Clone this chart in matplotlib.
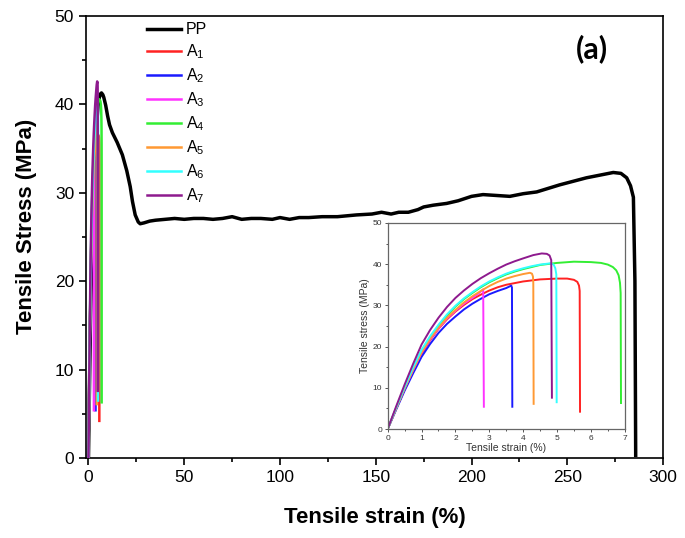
import matplotlib
matplotlib.use("Agg")
import matplotlib.pyplot as plt
from matplotlib.ticker import MultipleLocator

plt.rcParams['font.family'] = ['Liberation Sans', 'DejaVu Sans']
plt.rcParams['mathtext.fontset'] = 'custom'
plt.rcParams['mathtext.rm'] = 'Liberation Sans'
plt.rcParams['mathtext.it'] = 'Liberation Sans'

# ---- data ----
pp_x = [0, 1, 2, 3, 4, 5, 5.7, 6.3, 6.8, 7.5, 8, 9, 10, 11, 12.5, 15, 17.7, 20, 21.8, 23, 24.4,
        26, 27, 29, 32, 35, 40, 45, 50, 55, 60, 65, 70, 75, 80, 85, 90, 96, 100, 105, 110, 115,
        122, 130, 135, 140, 148, 153, 158, 162, 167, 172, 175, 180, 187, 193, 200, 206, 213,
        220, 227, 234, 240, 246, 253, 260, 267, 274, 278, 281, 283, 284.5, 285.3, 285.7]
pp_y = [0, 15, 25, 32, 37, 39.8, 40.8, 41.2, 41.3, 41.1, 40.8, 39.9, 38.7, 37.7, 36.8, 35.7,
        34.3, 32.5, 30.7, 29, 27.5, 26.7, 26.5, 26.6, 26.8, 26.9, 27.0, 27.1, 27.0, 27.1, 27.1,
        27.0, 27.1, 27.3, 27.0, 27.1, 27.1, 27.0, 27.2, 27.0, 27.2, 27.2, 27.3, 27.3, 27.4, 27.5,
        27.6, 27.8, 27.6, 27.8, 27.8, 28.1, 28.4, 28.6, 28.8, 29.1, 29.6, 29.8, 29.7, 29.6, 29.9,
        30.1, 30.5, 30.9, 31.3, 31.7, 32.0, 32.3, 32.2, 31.7, 30.8, 29.5, 20, 0.3]

a1_x = [0, 0.25, 0.5, 0.75, 1, 1.25, 1.5, 1.75, 2, 2.25, 2.5, 2.75, 3, 3.25, 3.5, 3.75, 4, 4.5,
        5, 5.3, 5.5, 5.6, 5.65, 5.67, 5.68]
a1_y = [0, 4.9, 9.7, 14.1, 18.2, 21.5, 24.3, 26.6, 28.5, 30.1, 31.5, 32.6, 33.6, 34.4, 35.0,
        35.4, 35.8, 36.3, 36.5, 36.5, 36.2, 35.7, 34.8, 33.5, 4.2]
a2_x = [0, 0.25, 0.5, 0.75, 1, 1.25, 1.5, 1.75, 2, 2.25, 2.5, 2.75, 3, 3.25, 3.5, 3.65, 3.67,
        3.68]
a2_y = [0, 4.7, 9.3, 13.5, 17.5, 20.6, 23.3, 25.5, 27.3, 29.0, 30.4, 31.6, 32.7, 33.5, 34.2,
        34.8, 34.3, 5.4]
a3_x = [0, 0.25, 0.5, 0.75, 1, 1.25, 1.5, 1.75, 2, 2.25, 2.5, 2.7, 2.82, 2.84]
a3_y = [0, 5.0, 9.8, 14.3, 18.5, 21.7, 24.4, 26.8, 28.7, 30.4, 31.8, 33.0, 33.9, 5.4]
a4_x = [0, 0.25, 0.5, 0.75, 1, 1.25, 1.5, 1.75, 2, 2.25, 2.5, 2.75, 3, 3.25, 3.5, 3.75, 4, 4.5,
        5, 5.5, 6, 6.3, 6.5, 6.65, 6.75, 6.82, 6.86, 6.88, 6.89]
a4_y = [0, 5.1, 10.0, 14.7, 19.0, 22.2, 25.0, 27.5, 29.7, 31.5, 33.0, 34.4, 35.6, 36.6, 37.5,
        38.2, 38.8, 39.8, 40.3, 40.6, 40.5, 40.3, 39.9, 39.3, 38.5, 37.3, 35.5, 33.0, 6.3]
a5_x = [0, 0.25, 0.5, 0.75, 1, 1.25, 1.5, 1.75, 2, 2.25, 2.5, 2.75, 3, 3.25, 3.5, 3.75, 4, 4.2,
        4.26, 4.29, 4.3, 4.31]
a5_y = [0, 5.0, 9.9, 14.4, 18.6, 21.9, 24.6, 27.0, 28.9, 30.7, 32.2, 33.5, 34.7, 35.7, 36.5,
        37.1, 37.6, 37.9, 37.7, 37.0, 35.5, 6.1]
a6_x = [0, 0.25, 0.5, 0.75, 1, 1.25, 1.5, 1.75, 2, 2.25, 2.5, 2.75, 3, 3.25, 3.5, 3.75, 4, 4.25,
        4.5, 4.8, 4.9, 4.95, 4.98, 4.99]
a6_y = [0, 5.2, 10.2, 14.9, 19.2, 22.5, 25.3, 27.8, 29.9, 31.7, 33.2, 34.6, 35.8, 36.8, 37.7,
        38.4, 39.0, 39.5, 39.9, 40.2, 39.9, 39.0, 37.5, 6.5]
a7_x = [0, 0.25, 0.5, 0.75, 1, 1.25, 1.5, 1.75, 2, 2.25, 2.5, 2.75, 3, 3.25, 3.5, 3.75, 4, 4.3,
        4.55, 4.7, 4.78, 4.83, 4.85]
a7_y = [0, 5.5, 10.8, 15.8, 20.5, 24.0, 27.0, 29.6, 31.8, 33.6, 35.2, 36.6, 37.8, 38.9, 39.9,
        40.7, 41.4, 42.2, 42.6, 42.5, 42.1, 41.0, 7.6]

labels = ["PP", "A$_1$", "A$_2$", "A$_3$", "A$_4$", "A$_5$", "A$_6$", "A$_7$"]
colors = ["black", "#ff2222", "#1a1aff", "#ff33ff", "#33ee33", "#ff9933", "#33ffff", "#8e1a8e"]

series = [(pp_x, pp_y), (a1_x, a1_y), (a2_x, a2_y), (a3_x, a3_y), (a4_x, a4_y),
          (a5_x, a5_y), (a6_x, a6_y), (a7_x, a7_y)]

fig = plt.figure(figsize=(6.85, 5.38), dpi=100)
ax = fig.add_axes([0.1255, 0.1487, 0.8425, 0.8215])

for i, ((x, y), lab, c) in enumerate(zip(series, labels, colors)):
    lw = 2.5 if i == 0 else 1.8
    ax.plot(x, y, color=c, lw=lw, label=lab, zorder=3 if i else 2,
            solid_joinstyle='round')

ax.set_xlim(-1.3, 300)
ax.set_ylim(0, 50)
ax.xaxis.set_major_locator(MultipleLocator(50))
ax.xaxis.set_minor_locator(MultipleLocator(25))
ax.yaxis.set_major_locator(MultipleLocator(10))
ax.yaxis.set_minor_locator(MultipleLocator(5))
ax.tick_params(which='both', direction='out', labelsize=12.5, width=1.2)
ax.tick_params(which='major', length=5)
ax.tick_params(which='minor', length=3)
for s in ax.spines.values():
    s.set_linewidth(1.2)
ax.set_xlabel("Tensile strain (%)", fontsize=16, fontweight='bold', labelpad=16)
ax.set_ylabel("Tensile Stress (MPa)", fontsize=16, fontweight='bold', labelpad=13)
ax.yaxis.set_label_coords(-0.085, 0.525)

leg = ax.legend(loc='upper left', bbox_to_anchor=(0.081, 1.018), frameon=False, fontsize=11.5,
                handlelength=2.15, labelspacing=0.33, handletextpad=0.3)

fig.text(0.864, 0.91, "(a)", fontsize=22, fontweight='bold', family=['Lato', 'DejaVu Sans'],
         ha='center', va='center')

# ---- inset ----
ins = fig.add_axes([0.566, 0.2026, 0.346, 0.383])
for (x, y), c in list(zip(series, colors))[1:]:
    ins.plot(x, y, color=c, lw=1.4, solid_joinstyle='round')
ins.set_xlim(0, 7)
ins.set_ylim(0, 50)
ins.xaxis.set_major_locator(MultipleLocator(1))
ins.xaxis.set_minor_locator(MultipleLocator(0.5))
ins.yaxis.set_major_locator(MultipleLocator(10))
ins.yaxis.set_minor_locator(MultipleLocator(5))
ins.tick_params(which='both', direction='out', labelsize=6, width=0.7, color='#555555',
                labelcolor='#333333', pad=1.5)
ins.tick_params(which='major', length=2.5)
ins.tick_params(which='minor', length=1.5)
for s in ins.spines.values():
    s.set_linewidth(0.9)
    s.set_color('#666666')
ins.set_xlabel("Tensile strain (%)", fontsize=7.5, labelpad=1, color='#333333')
ins.set_ylabel("Tensile stress (MPa)", fontsize=7.5, labelpad=2, color='#333333')

fig.savefig("out.png", dpi=100)
